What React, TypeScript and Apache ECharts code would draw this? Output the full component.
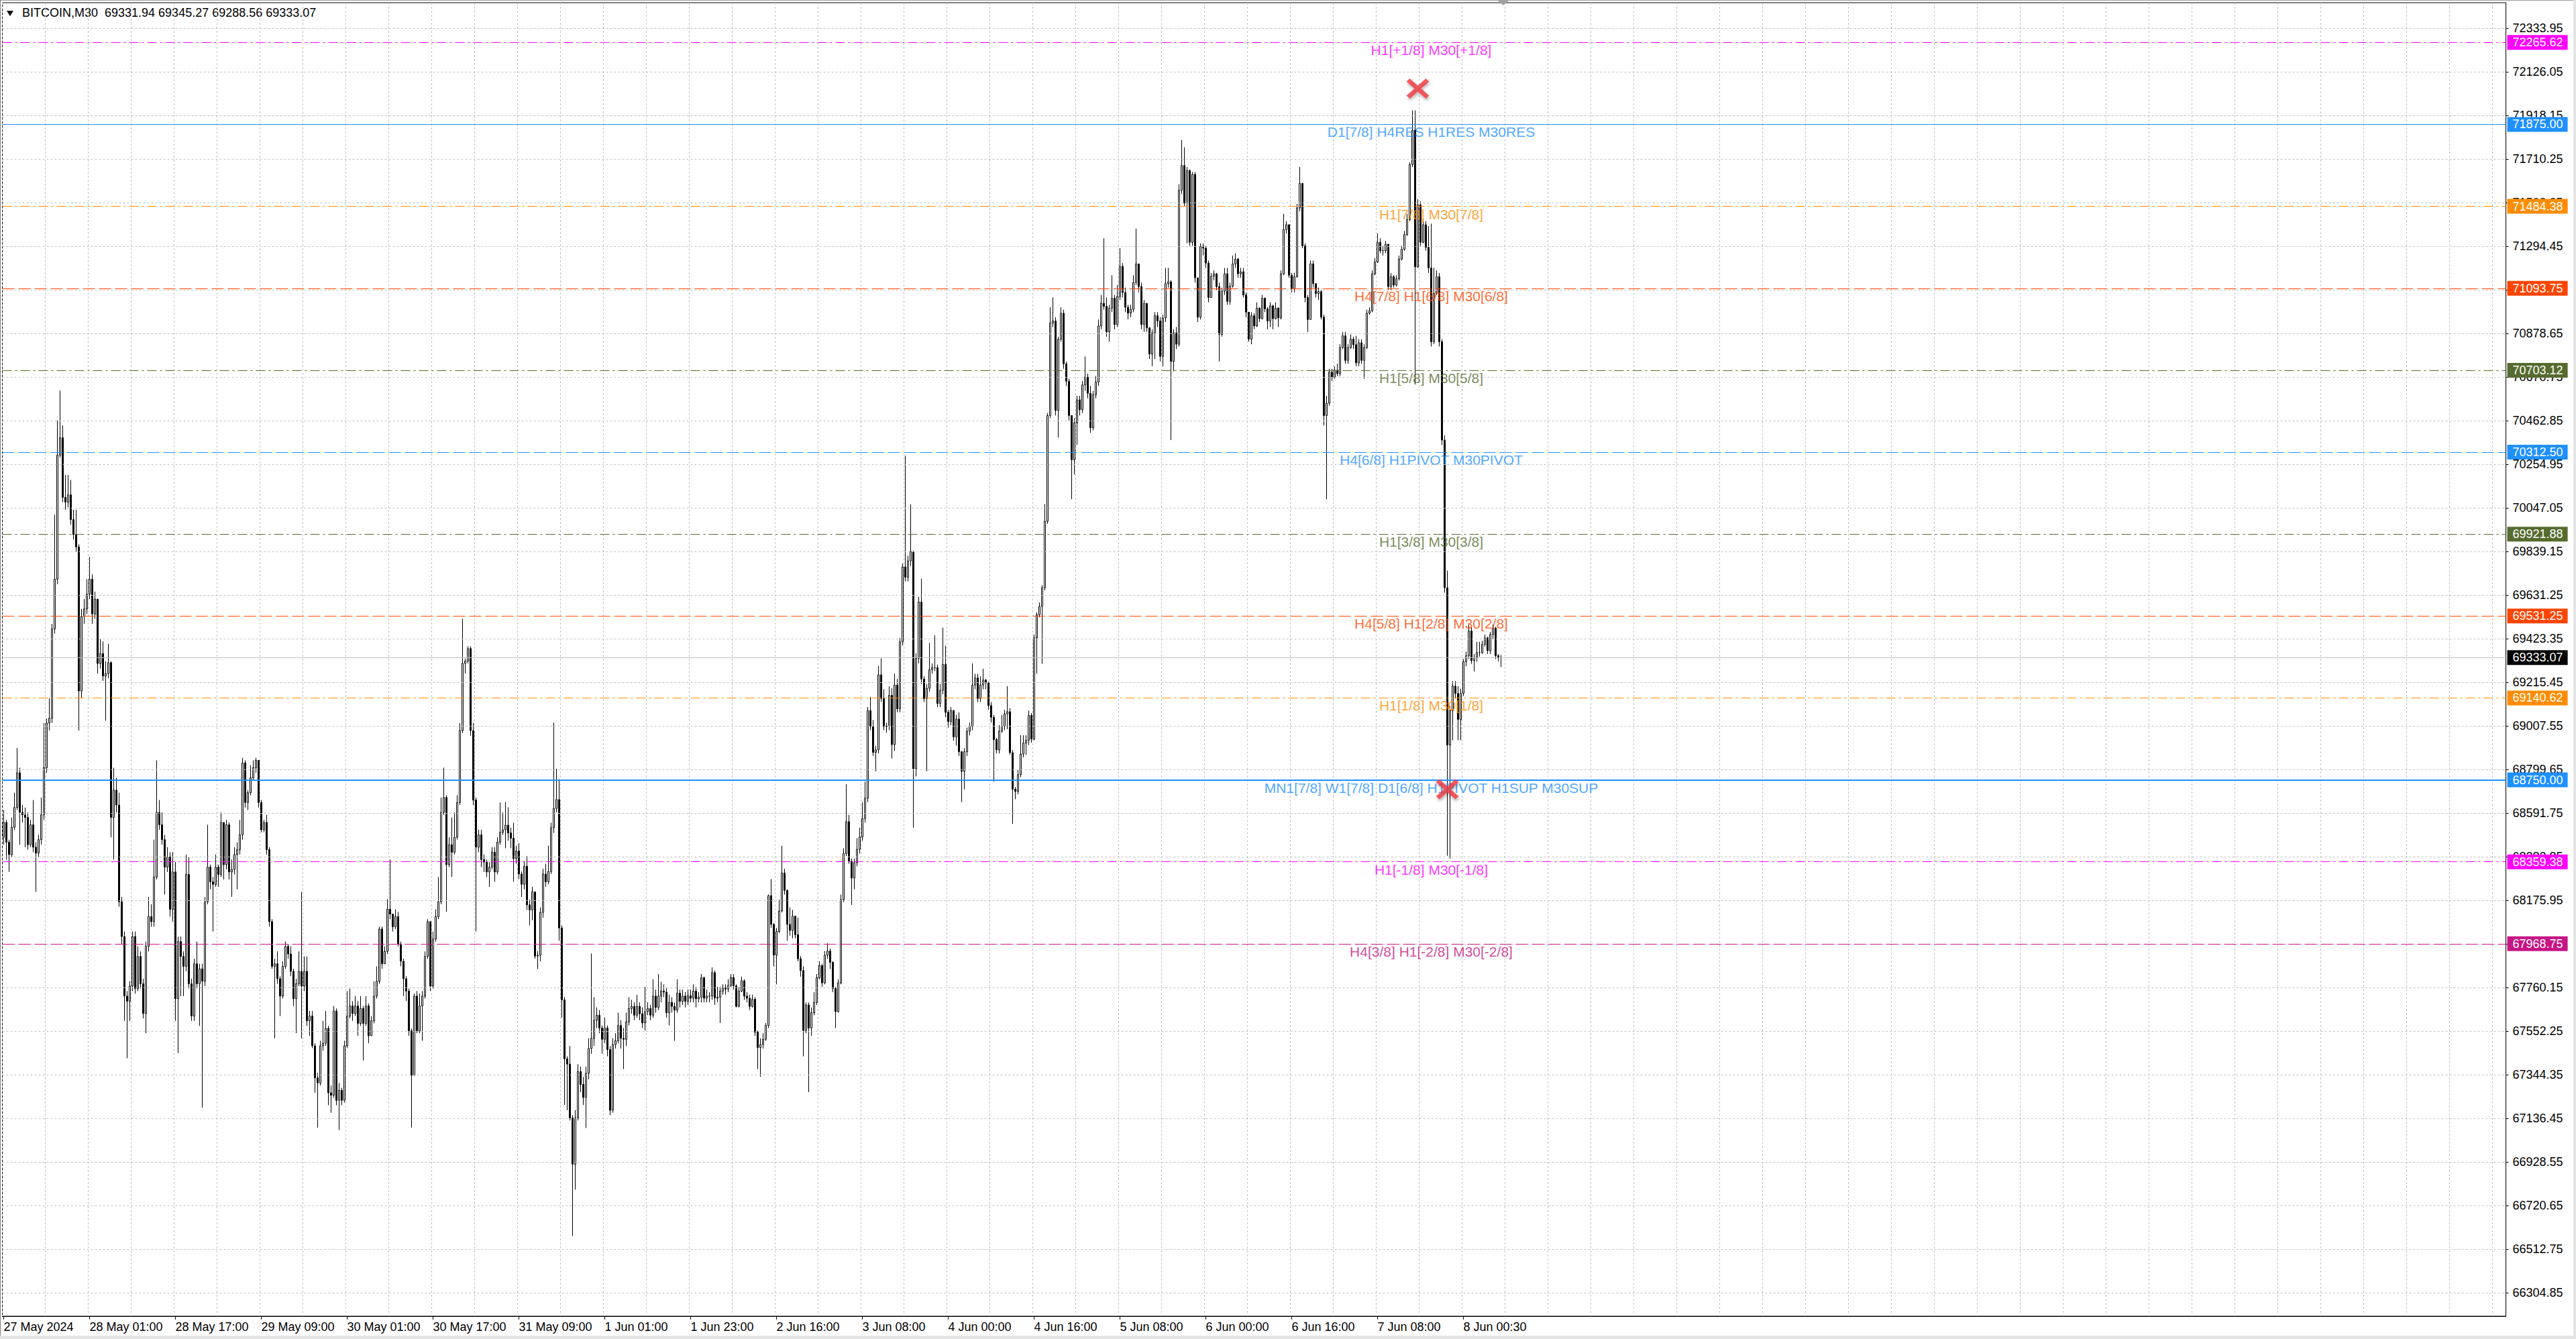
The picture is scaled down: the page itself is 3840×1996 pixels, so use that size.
import { useEffect, useRef } from "react";
import * as echarts from "echarts";

const FONT = '"Liberation Sans", Arial, sans-serif';

// BITCOIN M30 bars, 27 May - 8 Jun 2024 (open of each bar = close of the previous one)
const firstOpen = 68476;

const closes = [
  68547, 68453, 68394, 68524, 68618, 68784, 68595, 68583, 68571, 68441,
  68536, 68429, 68401, 68465, 68583, 68808, 69021, 69044, 69470, 69707,
  70298, 70381, 70097, 70074, 70109, 69991, 69920, 69861, 69174, 69529,
  69565, 69636, 69707, 69541, 69612, 69305, 69352, 69245, 69257, 69309,
  68571, 68701, 68630, 68169, 68003, 67719, 67695, 67767, 68003, 67755,
  67908, 67778, 67636, 67956, 68098, 68074, 68287, 68595, 68536, 68465,
  68334, 68382, 68133, 68311, 67707, 67979, 67908, 67861, 68299, 67778,
  67624, 67873, 67778, 67849, 67790, 68169, 68334, 68264, 68252, 68334,
  68299, 68547, 68346, 68536, 68311, 68323, 68394, 68417, 68488, 68831,
  68642, 68689, 68760, 68808, 68843, 68642, 68512, 68547, 68417, 68074,
  67861, 67873, 67802, 67719, 67861, 67956, 67920, 67837, 67707, 67778,
  67837, 67767, 67837, 67601, 67624, 67482, 67329, 67305, 67482, 67494,
  67565, 67258, 67246, 67648, 67222, 67270, 67222, 67482, 67624, 67672,
  67636, 67672, 67589, 67660, 67589, 67672, 67530, 67601, 67719, 67790,
  68039, 67873, 67932, 68133, 68110, 68050, 68098, 67968, 67885, 67802,
  67743, 67553, 67341, 67719, 67553, 67672, 67719, 67908, 68074, 67767,
  67991, 68098, 68169, 68595, 68666, 68346, 68441, 68405, 68476, 68642,
  68985, 69305, 69316, 69376, 68985, 68654, 68429, 68488, 68370, 68358,
  68311, 68334, 68405, 68311, 68453, 68500, 68512,
  68534, 68497, 68472, 68375, 68411, 68301, 68252, 68338, 68154, 68130,
  68216, 67910, 67914, 68118, 68301, 68264, 68313, 68522, 68614, 68656,
  68044, 67701, 67420, 67395, 67138, 66918, 67138, 67359, 67298, 67236,
  67351, 67469, 67518, 67604, 67628, 67567, 67513, 67567, 67464, 67175,
  67488, 67506, 67579, 67518, 67513, 67596, 67660, 67670, 67628, 67670,
  67635, 67591, 67645, 67660, 67628, 67719, 67665, 67719, 67743, 67738,
  67640, 67689, 67670, 67652, 67733, 67694, 67719, 67694, 67721, 67709,
  67743, 67706, 67714, 67807, 67709, 67719, 67719, 67831, 67709, 67714,
  67743, 67758, 67753, 67770, 67807, 67768, 67670, 67743, 67792, 67719,
  67709, 67670, 67704, 67547, 67474, 67488, 67513, 67579, 68198, 68061,
  67914, 68027, 68125, 68306, 68223, 68061, 68032, 68100, 68012, 67897,
  67841, 67555, 67677, 67567, 67640, 67689, 67807, 67865, 67782, 67914,
  67934, 67880, 67755, 67645, 67782, 68179, 68399, 68551, 68362, 68282,
  68355, 68419, 68477, 68566, 68663, 69080, 69006, 68881, 68893, 69251,
  69138, 69004, 69006, 69153, 68918, 69202, 69089, 69408, 69765, 69716,
  69794, 69838, 68803, 69329, 69598, 69231, 69138, 69187, 69275, 69285,
  69285, 69114, 69177, 69300, 69072, 69028, 69080, 68955, 69040, 68884,
  68791, 68884, 68982, 69006, 69202, 69236, 69138, 69202, 69226, 69212,
  69104, 69048, 68942, 68893, 68982, 69006, 69065,
  69075, 68880, 68705, 68695, 68775, 68873, 68925, 68939, 69057, 68944,
  69427, 69537, 69577, 69666, 69983, 70487, 70928, 70938, 70511, 70851,
  70975, 70734, 70651, 70487, 70276, 70452, 70562, 70515, 70633, 70670,
  70593, 70429, 70586, 70647, 70914, 71022, 71008, 70886, 70999, 71046,
  70921, 71055, 71198, 71074, 71003, 70975, 70994, 71121, 71210, 71102,
  70921, 71022, 70905, 70780, 70881, 70963, 70938, 70769, 70952, 71116,
  71125, 70745, 70881, 70827, 71562, 71679, 71500, 71655, 71313, 71637,
  71144, 70956, 71294, 71285, 71214, 71050, 71151, 71163, 71102, 70874,
  71081, 71163, 71031, 71104, 71210, 71233, 71163, 71172, 71062, 70980,
  70851, 70963, 70914, 70999, 70949, 71046, 70996, 70938, 71010, 70949,
  70999, 70952, 71163, 71374, 71397, 71156, 71090, 71149, 71477, 71594,
  71296, 71050, 70945, 71210, 71116, 71069, 71078, 70956, 70487, 70546,
  70694, 70670, 70703, 70687, 70811, 70867, 70750, 70811, 70851, 70825,
  70738, 70834, 70750, 70811, 70975, 70987, 71163, 71219, 71313, 71273,
  71273, 71304, 71102, 71149, 71109, 71139, 71233, 71280, 71350, 71421,
  71684, 71848, 71196, 71491, 71313, 71397, 71289, 71191, 70839, 71069,
  71149, 70839, 70370, 69666, 68916, 69080, 69197, 69162, 69038, 69162,
  69314, 69342, 69460, 69319, 69333, 69357, 69357, 69396, 69427, 69366,
  69443, 69474, 69342, 69331.94, 69333.07,
];

const highs = [
  68606, 68559, 68465, 68571, 68689, 68902, 68808, 68630, 68618, 68595,
  68559, 68654, 68453, 68488, 68666, 69021, 69044, 69139, 69494, 70014,
  70464, 70606, 70440, 70204, 70204, 70180, 70038, 70038, 69873, 69565,
  69612, 69707, 69813, 69730, 69648, 69518, 69423, 69411, 69316, 69399,
  69316, 68808, 68760, 68689, 68192, 68027, 67743, 67790, 68027, 68027,
  67956, 67932, 67802, 67979, 68192, 68157, 68465, 68843, 68654, 68595,
  68488, 68429, 68405, 68405, 68358, 68003, 68003, 67932, 68394, 68382,
  67802, 67897, 67979, 67873, 67873, 68192, 68536, 68346, 68287, 68394,
  68346, 68595, 68547, 68559, 68547, 68370, 68429, 68453, 68559, 68855,
  68843, 68701, 68820, 68843, 68855, 68843, 68654, 68559, 68583, 68429,
  68086, 67897, 67932, 67814, 67885, 67979, 67968, 67956, 67849, 67802,
  67932, 68216, 67908, 67908, 67648, 67648, 67494, 67353, 67506, 67601,
  67648, 67577, 67293, 67672, 67660, 67305, 67282, 67506, 67743, 67755,
  67695, 67719, 67695, 67719, 67672, 67719, 67684, 67624, 67790, 67861,
  68050, 68050, 67956, 68181, 68370, 68098, 68133, 68121, 67979, 67897,
  67814, 67755, 67565, 67731, 67743, 67731, 67743, 67932, 68086, 68074,
  68027, 68133, 68287, 68666, 68808, 68677, 68476, 68571, 68595, 68677,
  69021, 69518, 69328, 69387, 69387, 69021, 68666, 68512, 68512, 68394,
  68370, 68358, 68429, 68429, 68476, 68642, 68595,
  68644, 68619, 68522, 68546, 68436, 68448, 68313, 68362, 68387, 68179,
  68240, 68179, 67934, 68142, 68326, 68350, 68436, 68546, 69023, 68803,
  68754, 68056, 67714, 67432, 67481, 67151, 67175, 67395, 67383, 67334,
  67383, 67518, 67922, 67714, 67665, 67652, 67579, 67616, 67579, 67481,
  67518, 67542, 67640, 67604, 67567, 67640, 67714, 67701, 67689, 67726,
  67689, 67665, 67763, 67689, 67677, 67799, 67750, 67824, 67787, 67775,
  67758, 67726, 67714, 67689, 67799, 67750, 67750, 67738, 67750, 67750,
  67775, 67763, 67738, 67824, 67812, 67750, 67738, 67856, 67841, 67763,
  67763, 67775, 67775, 67799, 67824, 67824, 67775, 67763, 67812, 67799,
  67738, 67726, 67726, 67714, 67555, 67518, 67542, 67591, 68203, 68277,
  68068, 68044, 68179, 68436, 68326, 68228, 68142, 68130, 68093, 68093,
  67910, 67861, 67689, 67689, 67665, 67738, 67824, 67885, 67873, 67934,
  67971, 67946, 67885, 67763, 67799, 68203, 68424, 68729, 68583, 68375,
  68375, 68472, 68522, 68644, 68742, 69097, 69146, 69036, 68913, 69293,
  69329, 69182, 69023, 69195, 69187, 69256, 69231, 69427, 69782, 70296,
  69819, 70064, 69843, 69354, 69623, 69709, 69244, 69207, 69403, 69305,
  69439, 69300, 69207, 69476, 69390, 69084, 69097, 69084, 69060, 69072,
  68888, 68901, 68999, 69023, 69305, 69256, 69256, 69244, 69280, 69231,
  69219, 69121, 69060, 68950, 69011, 69060, 69084,
  69197, 69092, 68892, 68716, 68798, 68963, 68963, 68963, 69080, 69068,
  69443, 69549, 69596, 69678, 70065, 70499, 71003, 71050, 70956, 70863,
  71003, 70992, 70745, 70663, 70487, 70475, 70581, 70581, 70651, 70769,
  70687, 70628, 70605, 70675, 70945, 71062, 71332, 71050, 71015, 71156,
  71062, 71109, 71285, 71214, 71097, 71015, 71015, 71156, 71379, 71203,
  71121, 71038, 71003, 70909, 70898, 70980, 70980, 70956, 70968, 71191,
  71191, 71132, 70898, 70909, 71590, 71801, 71766, 71672, 71660, 71648,
  71648, 71132, 71308, 71308, 71296, 71226, 71167, 71179, 71167, 71121,
  71097, 71191, 71191, 71121, 71250, 71261, 71238, 71191, 71191, 71074,
  70980, 70980, 70975, 71027, 71003, 71062, 71050, 71003, 71027, 71015,
  71027, 71003, 71179, 71449, 71414, 71390, 71167, 71167, 71496, 71672,
  71590, 71308, 71062, 71226, 71226, 71109, 71097, 71085, 70968, 70581,
  70710, 70710, 70722, 70734, 70827, 70886, 70886, 70827, 70874, 70863,
  70867, 70851, 70851, 70827, 70992, 71003, 71179, 71238, 71355, 71332,
  71296, 71320, 71296, 71167, 71156, 71156, 71250, 71296, 71367, 71449,
  71695, 71942, 71942, 71519, 71508, 71425, 71414, 71390, 71402, 71191,
  71179, 71167, 70851, 70393, 69748, 69103, 69221, 69221, 69197, 69185,
  69326, 69361, 69490, 69479, 69350, 69408, 69408, 69413, 69443, 69432,
  69455, 69490, 69479, 69350, 69345.27,
];

const lows = [
  68441, 68370, 68311, 68382, 68512, 68606, 68441, 68547, 68429, 68417,
  68429, 68405, 68216, 68382, 68441, 68559, 68784, 68985, 69021, 69447,
  69683, 70286, 70074, 70038, 70050, 69967, 69896, 69837, 68985, 69139,
  69494, 69541, 69612, 69494, 69518, 69257, 69281, 69222, 69032, 69234,
  68476, 68370, 68595, 68145, 67968, 67601, 67423, 67601, 67743, 67731,
  67743, 67755, 67613, 67542, 67932, 68050, 68050, 68275, 68512, 68441,
  68204, 68311, 68098, 68074, 67601, 67447, 67719, 67719, 67837, 67755,
  67601, 67601, 67755, 67577, 67187, 67767, 68157, 68228, 68027, 68240,
  68240, 68287, 68275, 68323, 68275, 68192, 68299, 68228, 68394, 68465,
  68618, 68606, 68677, 68748, 68784, 68618, 68500, 68500, 68394, 68050,
  67849, 67518, 67778, 67624, 67707, 67849, 67897, 67814, 67672, 67542,
  67767, 67518, 67743, 67577, 67530, 67471, 67258, 67092, 67293, 67459,
  67482, 67199, 67163, 67234, 67199, 67080, 67199, 67211, 67471, 67613,
  67601, 67624, 67530, 67577, 67412, 67577, 67494, 67553, 67589, 67707,
  67778, 67849, 67897, 67920, 68086, 68027, 68039, 67956, 67861, 67719,
  67695, 67530, 67092, 67341, 67542, 67542, 67506, 67707, 67897, 67743,
  67755, 67979, 68086, 68157, 68583, 68121, 68334, 68287, 68394, 68465,
  68630, 68973, 69257, 69305, 68961, 68630, 68027, 68405, 68334, 68311,
  68287, 68240, 68323, 68264, 68299, 68441, 68488,
  68424, 68460, 68424, 68264, 68350, 68277, 68191, 68228, 68130, 68056,
  68081, 67897, 67848, 67885, 68093, 68240, 68252, 68301, 68497, 68595,
  67983, 67616, 67200, 67175, 67126, 66575, 66796, 67126, 67261, 67200,
  67090, 67322, 67444, 67481, 67567, 67542, 67444, 67494, 67432, 67151,
  67163, 67469, 67494, 67469, 67371, 67481, 67579, 67635, 67604, 67616,
  67604, 67567, 67555, 67628, 67604, 67616, 67640, 67652, 67689, 67714,
  67616, 67579, 67640, 67506, 67640, 67665, 67677, 67665, 67677, 67689,
  67689, 67665, 67689, 67689, 67689, 67689, 67689, 67701, 67677, 67689,
  67591, 67726, 67726, 67738, 67763, 67750, 67665, 67665, 67738, 67701,
  67689, 67652, 67665, 67530, 67371, 67334, 67469, 67506, 67567, 68044,
  67861, 67775, 68020, 68118, 68203, 67983, 68007, 67995, 67995, 67885,
  67812, 67432, 67542, 67261, 67530, 67628, 67677, 67799, 67763, 67775,
  67897, 67848, 67738, 67567, 67640, 67775, 68167, 68387, 68350, 68154,
  68228, 68338, 68399, 68460, 68546, 68644, 68987, 68864, 68791, 68876,
  69121, 68987, 68974, 68987, 68852, 68888, 69072, 69072, 69390, 69696,
  69696, 69770, 68522, 68766, 69305, 69207, 69121, 68791, 69170, 69256,
  69268, 69097, 69097, 69158, 69048, 68999, 69011, 68937, 68913, 68864,
  68644, 68705, 68864, 68962, 68987, 69182, 69121, 69121, 69182, 69182,
  69084, 69023, 68742, 68876, 68876, 68974, 68987,
  68991, 68869, 68540, 68658, 68681, 68763, 68857, 68869, 68916, 68927,
  68939, 69256, 69525, 69303, 69654, 69971, 70475, 70909, 70487, 70382,
  70839, 70710, 70628, 70464, 70088, 70206, 70347, 70487, 70499, 70605,
  70569, 70405, 70417, 70569, 70628, 70898, 70992, 70863, 70839, 70980,
  70898, 70909, 71038, 71050, 70980, 70945, 70956, 70980, 71109, 71074,
  70898, 70886, 70886, 70757, 70722, 70757, 70909, 70745, 70722, 70933,
  71097, 70370, 70698, 70804, 70816, 71543, 71484, 71308, 71296, 71296,
  71121, 70933, 70945, 71250, 71191, 71027, 71050, 71132, 71085, 70745,
  70863, 71062, 71015, 71015, 71097, 71191, 71144, 71144, 71050, 70956,
  70839, 70827, 70898, 70909, 70933, 70945, 70980, 70898, 70909, 70898,
  70945, 70909, 70945, 71156, 71355, 71144, 71074, 71074, 71144, 71461,
  71285, 71027, 70886, 70945, 71097, 71050, 71038, 70945, 70440, 70088,
  70534, 70651, 70663, 70675, 70675, 70804, 70734, 70734, 70804, 70804,
  70722, 70722, 70734, 70663, 70804, 70968, 70980, 71156, 71214, 71261,
  71250, 71261, 71085, 71085, 71097, 71102, 71132, 71226, 71273, 71343,
  71414, 71672, 70635, 71191, 71296, 71308, 71273, 71167, 70816, 70827,
  71062, 70816, 70347, 69643, 68388, 68376, 68939, 69138, 68939, 68939,
  69150, 69291, 69326, 69303, 69267, 69314, 69338, 69350, 69385, 69350,
  69350, 69420, 69326, 69314, 69288.56,
];

// one label every 32 bars
const timeLabels = [
  "27 May 2024", "28 May 01:00", "28 May 17:00", "29 May 09:00", "30 May 01:00",
  "30 May 17:00", "31 May 09:00", "1 Jun 01:00", "1 Jun 23:00", "2 Jun 16:00",
  "3 Jun 08:00", "4 Jun 00:00", "4 Jun 16:00", "5 Jun 08:00", "6 Jun 00:00",
  "6 Jun 16:00", "7 Jun 08:00", "8 Jun 00:30",
];

const priceTicks = [
  72333.95, 72126.05, 71918.15, 71710.25, 71502.35, 71294.45, 71086.55, 70878.65,
  70670.75, 70462.85, 70254.95, 70047.05, 69839.15, 69631.25, 69423.35, 69215.45,
  69007.55, 68799.65, 68591.75, 68383.85, 68175.95, 67968.05, 67760.15, 67552.25,
  67344.35, 67136.45, 66928.55, 66720.65, 66512.75, 66304.85,
];

// Murrey math levels
const levelPrices = [
  72265.62, 71875.0, 71484.38, 71093.75, 70703.12, 70312.5,
  69921.88, 69531.25, 69140.62, 68750.0, 68359.38, 67968.75,
];
const levelNames = [
  "H1[+1/8] M30[+1/8]",
  "D1[7/8] H4RES H1RES M30RES",
  "H1[7/8] M30[7/8]",
  "H4[7/8] H1[6/8] M30[6/8]",
  "H1[5/8] M30[5/8]",
  "H4[6/8] H1PIVOT M30PIVOT",
  "H1[3/8] M30[3/8]",
  "H4[5/8] H1[2/8] M30[2/8]",
  "H1[1/8] M30[1/8]",
  "MN1[7/8] W1[7/8] D1[6/8] H1PIVOT H1SUP M30SUP",
  "H1[-1/8] M30[-1/8]",
  "H4[3/8] H1[-2/8] M30[-2/8]",
];
const levelColors = [
  "#FF00FF", "#1E90FF", "#FF8C00", "#FF4500", "#556B2F", "#1E90FF",
  "#556B2F", "#FF4500", "#FF8C00", "#1E90FF", "#FF00FF", "#C71585",
];
const levelStyles = [
  "dashdot", "solid", "dashdot", "dash", "dashdot", "dash",
  "dashdot", "dash", "dashdot", "solid", "dashdot", "dash",
];
const levelWidths = [1, 1, 1, 1, 1, 1, 1, 1, 1, 2, 1, 1];

const lastPrice = 69333.07;
const header = "BITCOIN,M30  69331.94 69345.27 69288.56 69333.07";

// red crosses (bar index, price)
const markerBars = [527, 538];
const markerPrices = [72046, 68705];

// bar slots across the plot, 4px each
const SLOT_COUNT = 933;
const LEVEL_TEXT_BAR = 532;

const dashOf = (s: string) =>
  s === "dash" ? [18, 6] : s === "dashdot" ? [14, 5, 3, 5] : "solid";

export default function App() {
  const ref = useRef<HTMLDivElement>(null);

  useEffect(() => {
    document.body.style.margin = "0";
    if (!ref.current) return;
    const chart = echarts.init(ref.current, undefined, { renderer: "svg" });

    const candles = closes.map((c, i) => {
      const o = i === 0 ? firstOpen : closes[i - 1];
      return [o, c, Math.min(lows[i], o, c), Math.max(highs[i], o, c)];
    });
    const slots = Array.from({ length: SLOT_COUNT }, (_, i) => String(i));
    const labelAt = (i: number) => i % 32 === 0 && i / 32 < timeLabels.length;

    const boxLabel = (p: number, bg: string) => ({
      show: true, position: "end", distance: 2,
      formatter: p.toFixed(2),
      backgroundColor: bg, color: "#fff",
      padding: [2, 7, 2, 8], fontSize: 18, fontFamily: FONT,
    });

    const levelLines = levelPrices.map((p, i) => ({
      yAxis: p,
      lineStyle: { color: levelColors[i], type: dashOf(levelStyles[i]), width: levelWidths[i] },
      label: boxLabel(p, levelColors[i]),
    }));
    levelLines.push({
      yAxis: lastPrice,
      lineStyle: { color: "#C0C0C0", type: "solid", width: 1 },
      label: boxLabel(lastPrice, "#000"),
    });

    chart.setOption({
      animation: false,
      backgroundColor: "#fff",
      grid: {
        left: 3.5, right: 104.5, top: 4, bottom: 34,
        show: true, borderColor: "#000", borderWidth: 1, backgroundColor: "#fff",
      },
      xAxis: {
        type: "category", data: slots, boundaryGap: true,
        axisLine: { lineStyle: { color: "#000", width: 1 } },
        axisTick: {
          show: true, alignWithLabel: true, length: 5, interval: labelAt,
          lineStyle: { color: "#000" },
        },
        axisLabel: {
          interval: labelAt,
          formatter: (_v: string, i: number) => timeLabels[i / 32] ?? "",
          align: "left", margin: 7, color: "#000", fontSize: 18, fontFamily: FONT,
        },
        splitLine: {
          show: true, interval: (i: number) => i % 16 === 0,
          lineStyle: { color: "#C0C0C0", type: [3, 3], width: 1 },
        },
      },
      yAxis: {
        type: "value", position: "right", min: 66192.9, max: 72455.5,
        axisLine: { show: true, lineStyle: { color: "#000", width: 1 } },
        axisTick: { show: true, length: 4, customValues: priceTicks, lineStyle: { color: "#000" } },
        axisLabel: {
          customValues: priceTicks,
          formatter: (v: number) => v.toFixed(2),
          color: "#000", fontSize: 18, fontFamily: FONT, margin: 10,
        },
        splitLine: { show: false },
      },
      graphic: [
        { type: "rect", shape: { x: 0, y: 0, width: 3840, height: 1 }, style: { fill: "#A0A0A0" }, silent: true },
        { type: "rect", shape: { x: 0, y: 0, width: 1, height: 1996 }, style: { fill: "#808080" }, silent: true },
        { type: "rect", shape: { x: 3836, y: 0, width: 4, height: 1996 }, style: { fill: "#E4E4E4" }, silent: true },
        { type: "rect", shape: { x: 0, y: 1991, width: 3840, height: 5 }, style: { fill: "#E4E4E4" }, silent: true },
        { type: "polygon", shape: { points: [[2233, 1], [2249, 1], [2241, 8]] }, style: { fill: "#A0A0A0" }, silent: true },
        { type: "polygon", shape: { points: [[10, 16], [20, 16], [15, 24]] }, style: { fill: "#000" }, silent: true },
        {
          type: "text", left: 33, top: 10, silent: true,
          style: { text: header, fill: "#000", font: `18px ${FONT}` },
        },
      ],
      series: [
        {
          name: "grid", type: "line", data: [], silent: true, z: 1,
          markLine: {
            silent: true, symbol: ["none", "none"], label: { show: false },
            lineStyle: { color: "#C0C0C0", type: [3, 3], width: 1 },
            data: priceTicks.map(p => ({ yAxis: p })),
          },
        },
        {
          name: "levels", type: "line", data: [], silent: true, z: 2,
          markLine: { silent: true, symbol: ["none", "none"], data: levelLines },
        },
        {
          name: "BITCOIN,M30", type: "candlestick", data: candles, z: 3,
          barWidth: 2,
          itemStyle: {
            color: "#ffffff", color0: "#000000",
            borderColor: "#000000", borderColor0: "#000000", borderWidth: 1,
          },
        },
        {
          name: "levelText", type: "scatter", symbolSize: 0, silent: true, z: 4,
          data: levelPrices.map((p, i) => ({
            value: [LEVEL_TEXT_BAR, p],
            label: {
              show: true, position: "bottom", distance: 1,
              formatter: levelNames[i], color: levelColors[i],
              fontSize: 21, fontFamily: FONT,
            },
          })),
        },
        {
          name: "markers", type: "scatter", silent: true, z: 5,
          symbol: "path://M4.5,0 L15,10.5 L25.5,0 L30,4.5 L19.5,15 L30,25.5 L25.5,30 L15,19.5 L4.5,30 L0,25.5 L10.5,15 L0,4.5 Z",
          symbolSize: [34, 30],
          itemStyle: {
            color: "#EE3A3F",
            shadowColor: "rgba(0,0,0,0.35)", shadowBlur: 4, shadowOffsetX: 1, shadowOffsetY: 3,
          },
          data: markerBars.map((b, i) => [b, markerPrices[i]]),
        },
      ],
    });

    return () => chart.dispose();
  }, []);

  return (
    <div
      ref={ref}
      style={{ position: "absolute", left: 0, top: 0, width: 3840, height: 1996, background: "#fff" }}
    />
  );
}
